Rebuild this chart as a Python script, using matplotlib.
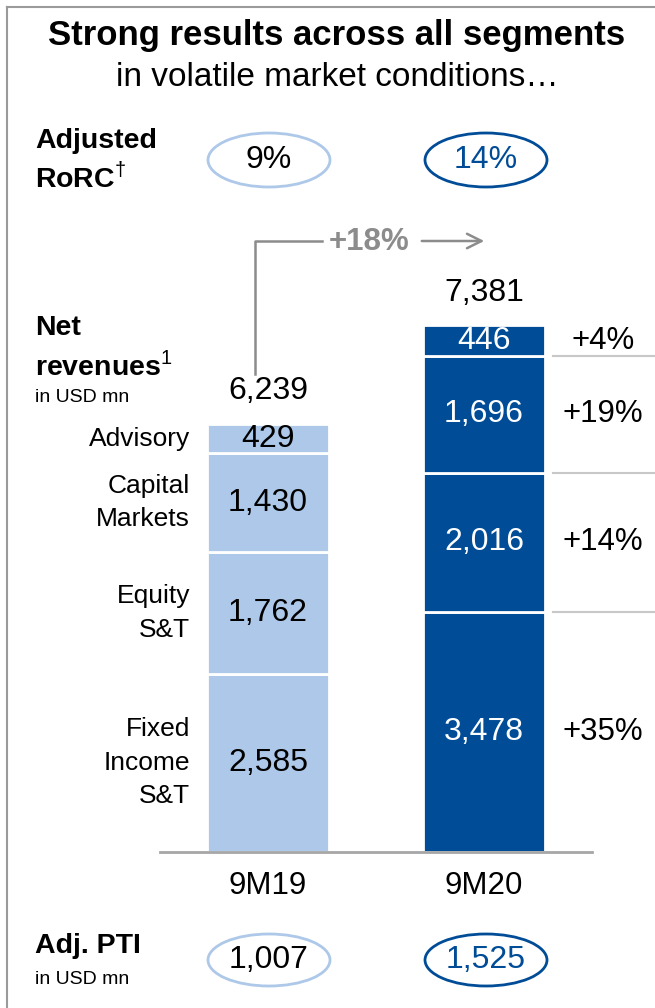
import matplotlib
matplotlib.use("Agg")
import matplotlib.pyplot as plt
from matplotlib.patches import Ellipse

plt.rcParams['font.family'] = ['Liberation Sans', 'DejaVu Sans']
plt.rcParams['mathtext.fontset'] = 'custom'
plt.rcParams['mathtext.rm'] = 'Liberation Sans'

# data
periods = ['9M19', '9M20']
segments = ['Fixed\nIncome\nS&T', 'Equity\nS&T', 'Capital\nMarkets', 'Advisory']
rev_9m19 = [2585, 1762, 1430, 429]
rev_9m20 = [3478, 2016, 1696, 446]
growth = ['+35%', '+14%', '+19%', '+4%']
totals = ['6,239', '7,381']
total_growth = '+18%'
rorc = ['9%', '14%']
adj_pti = ['1,007', '1,525']

light = '#adc8e8'
dark = '#004c97'
gray = '#8c8c8c'

fig = plt.figure(figsize=(6.55, 10.08), dpi=100)

# overlay in pixel coords
ax0 = fig.add_axes([0, 0, 1, 1])
ax0.set_xlim(0, 655)
ax0.set_ylim(1008, 0)
ax0.axis('off')

# frame
ax0.plot([7, 7], [7, 1008], color='#9a9a9a', lw=1.5)
ax0.plot([7, 655], [7, 7], color='#9a9a9a', lw=1.5)

ax0.text(337, 36, 'Strong results across all segments', ha='center', va='center',
         fontsize=25, fontweight='bold')
ax0.text(337, 78, 'in volatile market conditions…', ha='center', va='center', fontsize=24)

ax0.text(35, 141, 'Adjusted', ha='left', va='center', fontsize=20.5, fontweight='bold')
ax0.text(35, 178, r'RoRC$^{\dagger}$', ha='left', va='center', fontsize=20.5, fontweight='bold')

ax0.text(35, 328, 'Net', ha='left', va='center', fontsize=20.5, fontweight='bold')
ax0.text(35, 366, r'revenues$^{1}$', ha='left', va='center', fontsize=20.5, fontweight='bold')
ax0.text(35, 397, 'in USD mn', ha='left', va='center', fontsize=14)

ax0.text(35, 946, 'Adj. PTI', ha='left', va='center', fontsize=20.5, fontweight='bold')
ax0.text(35, 979, 'in USD mn', ha='left', va='center', fontsize=14)

xs_px = [269, 486]
cols = [light, dark]
txt_cols = ['black', dark]
for i in range(2):
    ax0.add_patch(Ellipse((xs_px[i], 160), 122, 54, fill=False, ec=cols[i], lw=2))
    ax0.text(xs_px[i], 160, rorc[i], ha='center', va='center', fontsize=23, color=txt_cols[i])
    ax0.add_patch(Ellipse((xs_px[i], 960), 122, 52, fill=False, ec=cols[i], lw=2))
    ax0.text(xs_px[i], 960, adj_pti[i], ha='center', va='center', fontsize=23, color=txt_cols[i])

# +18% arrow
ax0.plot([255, 255, 322], [374, 241, 241], color=gray, lw=1.8)
ax0.text(369, 242, total_growth, ha='center', va='center', fontsize=22.5,
         fontweight='bold', color=gray)
ax0.annotate('', xy=(487, 241), xytext=(419, 241),
             arrowprops=dict(arrowstyle='->', color=gray, lw=1.8, mutation_scale=26))

# bar axes
ax = fig.add_axes([160 / 655, 1 - 852 / 1008, 432 / 655, 552 / 1008])
ax.set_xlim(-0.5, 1.5)
scale = 0.069
ax.set_ylim(0, 552 / scale)
ax.axis('off')
ax.plot([-0.5, 1.5], [0, 0], color='#a6a6a6', lw=2, clip_on=False)

w = 122 / 216
series = [rev_9m19, rev_9m20]
for i, vals in enumerate(series):
    bottom = 0
    for j, v in enumerate(vals):
        ax.bar(i, v, w, bottom=bottom, color=cols[i], edgecolor='white', lw=2)
        ax.text(i, bottom + v / 2, f'{v:,}', ha='center', va='center', fontsize=23,
                color='black' if i == 0 else 'white')
        if i == 0:
            ax.text(-0.36, bottom + v / 2, segments[j], ha='right', va='center',
                    fontsize=19, linespacing=1.5)
        else:
            ax.text(1.55, bottom + v / 2, growth[j], ha='center', va='center', fontsize=22.5)
            if j < len(vals) - 1:
                ax.plot([1.32, 1.8], [bottom + v, bottom + v], color='#c8c8c8', lw=1.5,
                        clip_on=False)
        bottom += v
    ax.text(i, bottom + 470, totals[i], ha='center', va='center', fontsize=23)
    ax.text(i, -490, periods[i], ha='center', va='center', fontsize=22.5)

fig.savefig('out.png', dpi=100)
